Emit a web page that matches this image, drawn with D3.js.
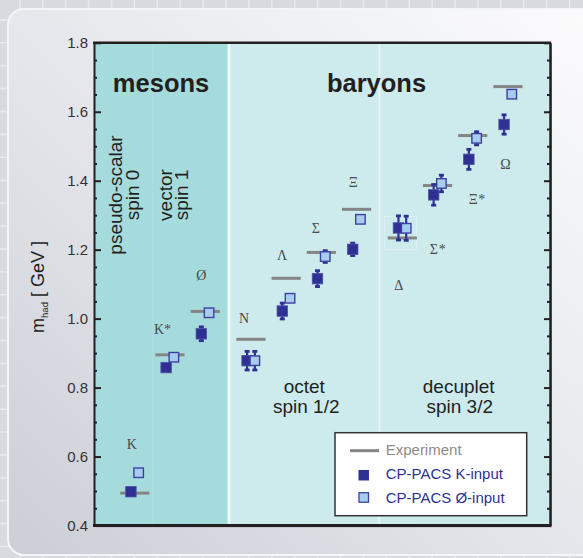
<!DOCTYPE html>
<html><head><meta charset="utf-8">
<script src="https://cdn.jsdelivr.net/npm/d3@7"></script>
<style>body{margin:0;background:#dadbe0}svg{display:block}</style>
</head><body>
<svg id="chart" width="583" height="558"></svg>
<script>
// ---------- data ----------
const categories  = ["K","K*","Ø","N","Λ","Σ","Ξ","Δ","Σ*","Ξ*","Ω"];
const groupIndex  = [0,0,0,1,1,1,1,2,2,2,2];           // mesons, octet, decuplet
const experiment  = [0.494,0.895,1.021,0.940,1.117,1.192,1.317,1.234,1.386,1.531,1.673];
const kInput      = [0.498,0.858,0.956,0.878,1.022,1.116,1.201,1.263,1.359,1.462,1.563];
const kInputErr   = [0,0,0.020,0.027,0.023,0.023,0.018,0.035,0.030,0.029,0.028];
const phiInput    = [0.553,0.888,1.017,0.878,1.059,1.180,1.288,1.262,1.392,1.523,1.651];
const phiInputErr = [0,0,0,0.027,0,0.017,0,0.035,0.024,0.019,0];
const labelValue  = [0.636,0.970,1.127,1.002,1.185,1.263,1.394,1.097,1.201,1.345,1.449];
const labelDx     = [-3,-11,-4,-7,-4,-5.5,-3.3,-3.5,-3.8,0.6,-2.4];
const yMajor      = [0.4,0.6,0.8,1.0,1.2,1.4,1.6,1.8];
const yMinor      = d3.range(0.45,1.8,0.05).filter(v=>Math.abs((v*10)%2)>0.05 && Math.abs((v*10)%2-2)>0.05);
const legendItems = ["Experiment","CP-PACS K-input","CP-PACS Ø-input"];

// ---------- layout ----------
const svg = d3.select("#chart");
const GAP = 0.3;
const slot = i => i + groupIndex[i]*GAP;
const x = d3.scaleLinear().domain([-1.159, 11.795]).range([94, 550]);
const y = d3.scaleLinear().domain([0.4, 1.8]).range([525.5, 42.8]);
const DARK = "#2e3192", LIGHT = "#a6cdee", EXP = "#858585";
const sans = "'Liberation Sans', Arial, sans-serif";
const serif = "'Liberation Serif', 'Times New Roman', serif";

// ---------- background & card ----------
const defs = svg.append("defs");
const g1 = defs.append("linearGradient").attr("id","card").attr("x1","0").attr("y1","1").attr("x2","1").attr("y2","0");
g1.append("stop").attr("offset","0").attr("stop-color","#cbced6");
g1.append("stop").attr("offset","0.45").attr("stop-color","#e3e5ea");
g1.append("stop").attr("offset","1").attr("stop-color","#fcfcfd");
svg.append("rect").attr("width",583).attr("height",558).attr("fill","#d9dae0");
const tile = svg.append("g").attr("stroke","#e8e9ee").attr("stroke-width",1.5);
for (let t = 19.9; t < 583; t += 22.9) tile.append("line").attr("x1",t).attr("x2",t).attr("y1",0).attr("y2",558);
for (let t = 19.9; t < 558; t += 22.9) tile.append("line").attr("y1",t).attr("y2",t).attr("x1",0).attr("x2",583);
svg.append("rect").attr("x",8).attr("y",9).attr("width",600).attr("height",546).attr("rx",16)
  .attr("fill","url(#card)").attr("stroke","#f4f5f7").attr("stroke-width",2);

// ---------- plot regions ----------
const bMesOct = (slot(2)+slot(3))/2, bOctDec = (slot(6)+slot(7))/2, bPsVec = (slot(0)+slot(1))/2;
const [xl, xr] = x.range(), [yb, yt] = y.range();
svg.append("rect").attr("x",xl+2).attr("y",yt+2).attr("width",xr-xl).attr("height",yb-yt).attr("fill","#9a9ca2").attr("opacity",0.6);
svg.append("rect").attr("x",xl).attr("y",yt).attr("width",x(bMesOct)-xl).attr("height",yb-yt).attr("fill","#a6dbdd");
svg.append("rect").attr("x",x(bMesOct)).attr("y",yt).attr("width",xr-x(bMesOct)).attr("height",yb-yt).attr("fill","#cdeaec");
svg.append("line").attr("x1",x(bPsVec)).attr("x2",x(bPsVec)).attr("y1",yt).attr("y2",yb).attr("stroke","#addfe1").attr("stroke-width",1);
svg.append("line").attr("x1",x(bMesOct)+1).attr("x2",x(bMesOct)+1).attr("y1",yt).attr("y2",yb).attr("stroke","#f2f9f9").attr("stroke-width",3);
svg.append("line").attr("x1",x(bOctDec)).attr("x2",x(bOctDec)).attr("y1",yt).attr("y2",yb).attr("stroke","#eaf4f4").attr("stroke-width",2);

// faint highlight box around Δ
svg.append("rect").attr("x",x(slot(7))-18).attr("y",y(1.296)).attr("width",32).attr("height",y(1.2)-y(1.296))
  .attr("fill","none").attr("stroke","#dcf0f1").attr("stroke-width",1);

// ---------- group texts ----------
const txt = (sel,xx,yy,s,opts={}) => sel.append("text").attr("x",xx).attr("y",yy).text(s)
  .attr("font-family",opts.family||sans).attr("font-size",opts.size||19).attr("font-weight",opts.weight||"normal")
  .attr("fill",opts.fill||"#231f20").attr("text-anchor",opts.anchor||"middle");
txt(svg, (xl+x(bMesOct))/2, 91.7, "mesons", {size:25.5, weight:"bold"});
txt(svg, 376.5, 91.7, "baryons", {size:25.5, weight:"bold"});
const rot = (xx, yy, s) => svg.append("text").attr("transform",`translate(${xx},${yy}) rotate(-90)`).text(s)
  .attr("font-family",sans).attr("font-size",19).attr("fill","#231f20").attr("text-anchor","middle");
rot(121.5,195,"pseudo-scalar"); rot(138.5,195,"spin 0");
rot(171.5,195,"vector"); rot(188,195,"spin 1");
txt(svg, (x(bMesOct)+x(bOctDec))/2+0.5, 393.3, "octet");
txt(svg, (x(bMesOct)+x(bOctDec))/2+2.5, 413.3, "spin 1/2");
txt(svg, (x(bOctDec)+xr)/2-6, 393.3, "decuplet");
txt(svg, (x(bOctDec)+xr)/2-5, 413.3, "spin 3/2");

// ---------- axes ----------
const axisStyle = g => { g.selectAll("path").attr("stroke","#231f20"); g.selectAll("line").attr("stroke","#231f20").attr("stroke-width",2);
  g.selectAll("text").attr("font-family",sans).attr("font-size",15).attr("fill","#333"); };
svg.append("g").attr("transform",`translate(${xl},0)`)
  .call(d3.axisLeft(y).tickValues(yMinor).tickSize(-3).tickSizeOuter(0).tickFormat(""))
  .call(axisStyle).call(g=>g.select("path").remove());
svg.append("g").attr("transform",`translate(${xl},0)`)
  .call(d3.axisLeft(y).tickValues(yMajor).tickSize(-7).tickSizeOuter(0).tickPadding(6).tickFormat(d3.format(".1f")))
  .call(axisStyle).call(g=>g.select("path").attr("stroke-width",2));
svg.append("g").attr("transform",`translate(${xr},0)`)
  .call(d3.axisRight(y).tickValues(yMinor).tickSize(-3).tickSizeOuter(0).tickFormat(""))
  .call(axisStyle).call(g=>g.select("path").remove());
svg.append("g").attr("transform",`translate(${xr},0)`)
  .call(d3.axisRight(y).tickValues(yMajor).tickSize(-6).tickSizeOuter(0).tickFormat(""))
  .call(axisStyle).call(g=>g.select("path").attr("stroke-width",2.5));
svg.append("line").attr("x1",xl-1).attr("x2",xr+1.2).attr("y1",yt).attr("y2",yt).attr("stroke","#231f20").attr("stroke-width",2.6);
svg.append("line").attr("x1",xl-1).attr("x2",xr+1.2).attr("y1",yb).attr("y2",yb).attr("stroke","#231f20").attr("stroke-width",3);

const yt_ = svg.append("text").attr("transform","translate(44,287) rotate(-90)").attr("text-anchor","middle")
  .attr("font-family",sans).attr("font-size",18).attr("fill","#231f20");
yt_.append("tspan").text("m");
yt_.append("tspan").attr("font-size",9.5).attr("dy",4).text("had");
yt_.append("tspan").attr("dy",-4).text(" [ GeV ]");

// ---------- marks ----------
const OFF = 0.11, HALF = 0.415, SQ = 10.5;
const idx = d3.range(categories.length);
svg.append("g").selectAll("line").data(idx).join("line")
  .attr("x1",i=>x(slot(i)-HALF)).attr("x2",i=>x(slot(i)+HALF))
  .attr("y1",i=>y(experiment[i])).attr("y2",i=>y(experiment[i]))
  .attr("stroke",EXP).attr("stroke-width",3);

function errBars(vals, errs, off){
  const g = svg.append("g").attr("fill",DARK).attr("stroke",DARK);
  idx.filter(i=>errs[i]>0).forEach(i=>{
    const cx = x(slot(i)+off);
    g.append("line").attr("x1",cx).attr("x2",cx).attr("y1",y(vals[i]+errs[i])).attr("y2",y(vals[i]-errs[i])).attr("stroke-width",2.2);
    [vals[i]+errs[i], vals[i]-errs[i]].forEach(v=>g.append("rect").attr("x",cx-2.5).attr("y",y(v)-1.4).attr("width",5).attr("height",2.8).attr("stroke","none"));
  });
}
errBars(kInput, kInputErr, -OFF);
errBars(phiInput, phiInputErr, OFF);
svg.append("g").selectAll("rect").data(idx).join("rect")
  .attr("x",i=>x(slot(i)-OFF)-SQ/2).attr("y",i=>y(kInput[i])-SQ/2).attr("width",SQ).attr("height",SQ)
  .attr("fill",DARK).attr("stroke","#5054a8").attr("stroke-width",0.8);
svg.append("g").selectAll("rect").data(idx).join("rect")
  .attr("x",i=>x(slot(i)+OFF)-SQ/2+0.5).attr("y",i=>y(phiInput[i])-SQ/2+0.5).attr("width",SQ-1).attr("height",SQ-1)
  .attr("fill",LIGHT).attr("stroke","#3c42a0").attr("stroke-width",1.4);

// particle labels
const lab = svg.append("g").attr("font-family",serif).attr("font-size",14).attr("fill","#4a4a4a");
idx.forEach(i=>{
  const base = categories[i].replace("*",""), star = categories[i].includes("*");
  const cx = x(slot(i)) + labelDx[i], cy = y(labelValue[i]) + 4.7;
  lab.append("text").attr("x",cx).attr("y",cy).attr("text-anchor","middle").text(base);
  if (star) lab.append("text").attr("x",cx+5).attr("y",cy).attr("text-anchor","start").text("*");
});

// ---------- legend ----------
const lg = svg.append("g");
lg.append("rect").attr("x",335).attr("y",432.7).attr("width",191.7).attr("height",83).attr("fill","#fff").attr("stroke","#333").attr("stroke-width",1.5);
lg.append("line").attr("x1",350).attr("x2",379).attr("y1",450.7).attr("y2",450.7).attr("stroke",EXP).attr("stroke-width",3);
lg.append("rect").attr("x",358.5).attr("y",470).attr("width",10.5).attr("height",10.5).attr("fill",DARK);
lg.append("rect").attr("x",359).attr("y",492.7).attr("width",9.5).attr("height",9.5).attr("fill",LIGHT).attr("stroke","#3c42a0").attr("stroke-width",1.3);
[454.7, 479.3, 502.7].forEach((yy,k)=>txt(lg, 385.7, yy, legendItems[k], {size:15, anchor:"start", fill: k===0 ? "#8c8c8c" : DARK}));
</script>
</body></html>
